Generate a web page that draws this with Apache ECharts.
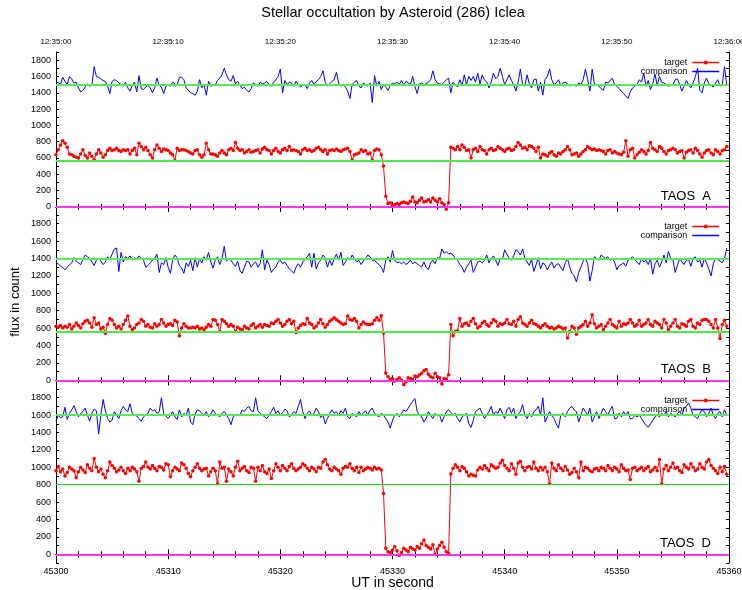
<!DOCTYPE html>
<html><head><meta charset="utf-8">
<script src="https://cdn.jsdelivr.net/npm/echarts@6/dist/echarts.min.js"></script>
<style>html,body{margin:0;padding:0;background:#fff}#c{width:742px;height:590px}</style>
</head><body><div id="c"></div>
<script>
// ---- data ----
const startTime = 45300;      // UT seconds of first sample
const sampleStep = 0.2;       // seconds between samples (5 Hz)
const titleText = 'Stellar occultation by Asteroid (286) Iclea';
const panelNames = ['TAOS  A', 'TAOS  B', 'TAOS  D'];
const seriesNames = ['target', 'comparison'];
const yTickValues = [0, 200, 400, 600, 800, 1000, 1200, 1400, 1600, 1800];
const xTickValues = [45300, 45310, 45320, 45330, 45340, 45350, 45360];
const topTickLabels = ['12:35:00', '12:35:10', '12:35:20', '12:35:30', '12:35:40', '12:35:50', '12:36:00'];
const levelsA = [1500, 560];
const levelsB = [1400, 560];
const levelsD = [1600, 800];
const zeroLevel = 0;

const targetA = [
640,700,760,810,780,730,650,640,620,610,600,650,700,630,600,660,620,580,650,700,660,610,640,690,720,
690,700,720,690,680,700,690,700,650,690,720,640,780,740,700,730,690,640,600,700,760,720,680,710,700,
690,660,640,570,720,690,700,700,690,680,660,650,690,700,640,610,640,780,700,650,650,640,620,660,690,
660,640,700,720,690,790,720,690,700,660,680,700,670,680,690,700,660,710,730,700,690,650,690,720,680,
660,700,720,690,740,690,700,690,680,650,700,720,690,700,680,690,720,730,700,680,700,650,690,700,690,
710,690,680,700,710,720,680,575,640,650,660,700,680,690,650,660,575,690,710,700,640,500,130,40,50,
20,30,40,30,50,60,50,40,70,120,60,50,80,110,60,70,90,60,110,80,60,100,50,30,-30,
50,730,720,700,740,700,760,730,690,700,600,700,720,680,740,700,690,650,700,720,690,700,740,720,700,
680,710,720,690,700,740,790,760,720,730,700,750,740,720,680,730,600,650,640,620,660,680,640,620,660,
650,680,700,740,700,640,650,660,620,650,680,700,740,720,700,710,690,700,690,680,650,690,700,660,680,
660,650,640,670,810,620,700,720,600,640,670,700,680,650,690,790,720,700,680,740,720,680,650,690,700,
720,700,660,680,690,600,670,690,700,660,720,690,650,610,660,690,700,660,640,700,680,650,690,700,740];
const comparisonA = [
1520,1530,1500,1590,1540,1500,1600,1570,1520,1530,1460,1410,1430,1470,1510,1480,1490,1720,1600,1590,1570,1550,1540,1480,1390,
1540,1560,1550,1520,1500,1480,1530,1460,1420,1490,1530,1410,1610,1450,1440,1470,1490,1460,1400,1460,1580,1490,1470,1390,1480,
1500,1480,1530,1510,1490,1590,1590,1560,1460,1430,1400,1390,1370,1420,1560,1460,1500,1370,1540,1480,1490,1500,1550,1580,1620,
1700,1620,1560,1540,1610,1510,1540,1490,1450,1470,1430,1410,1450,1520,1500,1480,1530,1510,1520,1540,1500,1480,1530,1560,1600,
1690,1400,1550,1500,1530,1520,1480,1540,1500,1470,1490,1500,1450,1520,1550,1500,1540,1560,1600,1670,1530,1480,1510,1540,1560,
1650,1520,1480,1500,1470,1420,1330,1500,1530,1550,1480,1460,1520,1500,1480,1520,1280,1610,1480,1540,1440,1500,1470,1430,1490,
1520,1510,1530,1500,1550,1490,1540,1520,1500,1600,1480,1390,1510,1520,1500,1510,1530,1560,1670,1560,1520,1510,1500,1530,1560,
1580,1400,1530,1500,1470,1560,1490,1620,1500,1600,1550,1600,1530,1640,1510,1620,1560,1530,1460,1530,1640,1570,1600,1700,1600,
1500,1560,1620,1550,1500,1420,1530,1690,1500,1480,1620,1510,1460,1560,1570,1420,1530,1370,1560,1600,1690,1560,1500,1520,1560,
1490,1520,1530,1510,1480,1500,1490,1480,1520,1500,1560,1690,1560,1420,1690,1510,1500,1480,1450,1430,1530,1520,1550,1580,1500,
1480,1450,1420,1390,1360,1330,1410,1460,1480,1500,1560,1530,1640,1480,1550,1440,1510,1630,1490,1600,1530,1520,1500,1480,1490,
1500,1560,1570,1500,1420,1480,1550,1500,1460,1520,1600,1700,1430,1400,1520,1580,1510,1490,1470,1520,1560,1480,1500,1720,1500];
const targetB = [
620,610,630,600,620,610,640,590,620,660,630,600,650,680,690,660,610,720,640,660,590,610,540,640,710,
690,640,600,620,590,640,690,740,620,580,600,640,660,700,680,620,640,610,600,650,620,640,700,660,620,
640,650,630,690,670,510,600,650,620,600,600,610,600,620,590,600,580,610,640,620,700,690,640,560,700,
680,650,620,640,620,560,610,590,580,620,600,590,630,650,600,620,640,610,640,630,620,660,650,680,700,
660,620,640,680,700,650,680,550,600,630,650,640,710,660,640,600,620,660,700,650,610,640,680,700,720,
700,680,660,640,650,740,700,690,710,680,600,640,670,650,640,640,650,690,720,690,745,544,84,40,10,
20,-10,10,30,0,-50,-20,30,20,10,50,40,60,80,110,123,70,40,30,80,40,30,-42,20,10,
65,640,513,560,570,710,620,650,660,630,680,710,650,600,620,660,680,640,620,660,700,680,620,650,640,
660,700,650,640,680,620,700,730,660,640,620,660,690,650,640,620,600,630,650,620,600,610,590,600,620,
610,590,600,486,560,620,600,530,600,620,640,680,620,660,754,650,600,620,640,580,620,660,700,640,620,
600,680,620,650,640,660,700,660,620,640,690,620,640,660,700,640,620,680,660,640,600,700,660,580,620,
660,700,620,600,650,640,620,680,700,620,600,660,640,690,700,700,680,640,600,700,600,480,640,690,620];
const comparisonB = [
1360,1340,1310,1300,1270,1300,1330,1350,1410,1370,1350,1330,1390,1440,1420,1400,1360,1320,1380,1400,1370,1330,1360,1420,1390,
1450,1510,1520,1250,1470,1360,1420,1400,1430,1380,1410,1390,1430,1400,1380,1300,1320,1350,1380,1400,1450,1240,1350,1330,1410,
1300,1230,1380,1440,1410,1320,1290,1230,1350,1310,1380,1260,1410,1300,1400,1350,1420,1380,1470,1360,1290,1380,1420,1330,1400,
1540,1370,1400,1380,1340,1310,1370,1260,1230,1300,1370,1360,1300,1340,1360,1300,1340,1500,1270,1380,1330,1240,1280,1300,1360,
1380,1340,1360,1320,1280,1260,1230,1300,1340,1300,1360,1390,1420,1460,1300,1460,1280,1350,1380,1440,1410,1300,1380,1320,1400,
1450,1380,1470,1320,1360,1410,1380,1440,1400,1360,1380,1330,1370,1400,1440,1420,1380,1380,1350,1330,1300,1240,1380,1420,1360,
1490,1380,1350,1360,1340,1360,1330,1350,1380,1340,1360,1340,1320,1300,1360,1300,1270,1350,1380,1340,1410,1400,1510,1460,1480,
1450,1460,1440,1400,1380,1330,1300,1240,1300,1340,1380,1240,1300,1360,1370,1350,1380,1440,1350,1400,1430,1380,1320,1400,1390,
1500,1450,1400,1380,1430,1500,1480,1440,1510,1400,1360,1320,1390,1250,1330,1410,1280,1350,1330,1270,1320,1360,1290,1330,1340,
1300,1260,1350,1400,1300,1230,1200,1130,1240,1300,1370,1400,1340,1140,1260,1420,1400,1380,1440,1420,1400,1420,1380,1400,1360,
1270,1320,1330,1350,1310,1380,1400,1420,1390,1360,1330,1400,1360,1380,1330,1400,1220,1340,1380,1300,1360,1440,1350,1480,1400,
1390,1240,1320,1400,1360,1330,1380,1390,1310,1400,1420,1360,1380,1300,1400,1350,1280,1200,1340,1400,1390,1370,1350,1400,1520];
const targetD = [
960,1010,950,980,900,940,1000,980,960,880,950,1000,970,940,1030,990,960,1100,1000,950,980,920,880,960,1060,
1020,990,950,970,1000,960,930,990,960,1000,980,950,840,990,1010,1060,1000,980,1020,990,960,1010,1000,970,1040,
1030,890,960,1000,980,960,1050,1030,990,930,890,960,1000,1040,990,960,980,990,900,950,990,960,810,1060,990,
1000,840,980,950,900,1000,1070,960,990,1010,960,940,1000,990,840,1000,960,1020,950,930,980,870,960,1040,1000,
960,1020,990,960,1010,1040,990,960,980,1000,1040,1020,990,960,1000,980,950,1000,990,1060,1090,1030,980,960,1000,
980,960,920,990,1010,1000,1040,990,960,1000,940,1000,960,980,1000,990,970,1000,980,990,970,700,70,30,20,
50,90,40,-15,20,70,50,30,80,60,50,90,70,120,165,100,80,60,110,0,60,100,138,80,30,
10,923,990,1030,1000,960,1010,990,950,900,920,910,900,970,1000,980,1020,990,960,1030,1010,990,1000,1050,1080,
1020,990,960,1040,990,920,1050,1070,1000,960,1000,1010,980,1060,990,960,1000,970,1000,950,810,1050,990,960,1030,
990,960,1010,970,920,940,990,950,880,1060,960,1000,990,960,950,980,990,960,1000,990,960,1020,990,960,1000,
980,950,1030,990,960,970,860,990,1000,960,980,1000,960,990,1010,950,970,1000,960,1090,810,980,1020,960,1000,
1050,990,1000,960,940,1030,1000,980,1040,1000,960,980,1040,1000,980,1060,1090,1020,990,960,930,1000,950,1010,920];
const comparisonD = [
1530,1600,1570,1580,1690,1550,1620,1660,1710,1640,1580,1620,1640,1680,1600,1530,1620,1670,1650,1380,1600,1780,1650,1560,1520,
1540,1640,1600,1560,1650,1700,1660,1640,1730,1620,1600,1590,1560,1530,1580,1600,1620,1680,1650,1660,1620,1640,1800,1620,1590,
1560,1600,1640,1580,1550,1660,1580,1620,1600,1680,1520,1490,1610,1660,1650,1620,1600,1640,1580,1610,1660,1620,1600,1580,1620,
1640,1600,1560,1490,1580,1600,1610,1600,1660,1640,1680,1700,1650,1640,1800,1650,1620,1600,1580,1560,1600,1640,1690,1620,1650,
1600,1630,1670,1650,1580,1600,1640,1620,1700,1780,1640,1560,1620,1650,1600,1620,1680,1640,1570,1600,1500,1560,1620,1660,1620,
1640,1600,1650,1620,1680,1580,1560,1620,1600,1580,1640,1600,1620,1650,1600,1660,1680,1620,1600,1580,1620,1600,1560,1520,1450,
1540,1600,1620,1580,1620,1660,1640,1680,1720,1760,1790,1640,1600,1580,1520,1560,1640,1600,1560,1620,1590,1600,1520,1580,1640,
1660,1630,1600,1620,1560,1520,1580,1600,1620,1500,1460,1540,1640,1660,1680,1620,1560,1600,1640,1700,1600,1640,1620,1680,1620,
1560,1660,1690,1620,1680,1560,1610,1640,1720,1600,1560,1620,1580,1640,1660,1700,1600,1800,1520,1580,1640,1600,1560,1500,1450,
1600,1620,1580,1640,1680,1700,1660,1640,1520,1600,1680,1640,1600,1680,1520,1580,1640,1560,1620,1680,1640,1600,1660,1700,1560,
1560,1620,1580,1640,1600,1640,1560,1560,1600,1580,1600,1560,1520,1480,1460,1500,1540,1580,1600,1580,1620,1600,1640,1580,1620,
1600,1580,1620,1640,1600,1680,1700,1740,1680,1600,1580,1560,1620,1660,1640,1580,1620,1680,1600,1560,1620,1640,1580,1660,1600];

// ---- chart ----
const SANS = '"Liberation Sans", Arial, sans-serif';
const toPairs = arr => arr.map((v, i) => [startTime + i * sampleStep, v]);

const panels = [
  { target: targetA, comp: comparisonA, levels: levelsA, lowColor: '#44ee44', lowWidth: 2 },
  { target: targetB, comp: comparisonB, levels: levelsB, lowColor: '#44ee44', lowWidth: 2 },
  { target: targetD, comp: comparisonD, levels: levelsD, lowColor: '#11dd11', lowWidth: 1.2 }
];
const gridPos = [ {top: 52, height: 163}, {top: 215, height: 174}, {top: 389, height: 174} ];
const legendTops = [58, 222, 396];
const panelLabelTops = [190, 363, 537];

const grid = gridPos.map(g => ({ left: 56, width: 673, top: g.top, height: g.height,
  containLabel: false, outerBoundsMode: 'none' }));
const xAxis = [], yAxis = [], series = [], legend = [], title = [];

title.push({ text: titleText, left: 393, textAlign: 'center', top: 5, padding: 0,
  textStyle: { fontFamily: SANS, fontSize: 14.5, fontWeight: 'normal', color: '#000' } });

const lineStyle = { color: '#000', width: 1 };
panels.forEach((p, g) => {
  const isLast = g === 2, isFirst = g === 0;
  // bottom x axis
  xAxis.push({ type: 'value', gridIndex: g, position: 'bottom', min: 45300, max: 45360, interval: 10,
    axisLine: { show: true, lineStyle }, splitLine: { show: false },
    axisTick: { show: true, inside: true, length: 5, lineStyle },
    minorTick: { show: true, splitNumber: 5, length: 3, lineStyle },
    axisLabel: { show: isLast, margin: 4, fontFamily: SANS, fontSize: 9, color: '#000',
      customValues: xTickValues, formatter: v => String(v) },
    name: isLast ? 'UT in second' : '', nameLocation: 'middle', nameGap: 13, nameMoveOverlap: false,
    nameTextStyle: { fontFamily: SANS, fontSize: 14, color: '#000' } });
  // top x axis
  xAxis.push({ type: 'value', gridIndex: g, position: 'top', min: 45300, max: 45360, interval: 10,
    axisLine: { show: true, lineStyle }, splitLine: { show: false },
    axisTick: { show: true, inside: true, length: 5, lineStyle },
    minorTick: { show: true, splitNumber: 5, length: 3, lineStyle },
    axisLabel: { show: isFirst, margin: 6, fontFamily: SANS, fontSize: 8, color: '#000',
      customValues: xTickValues, formatter: v => topTickLabels[xTickValues.indexOf(v)] || '' } });
  // left y axis
  yAxis.push({ type: 'value', gridIndex: g, position: 'left', min: -100, max: 1900, interval: 100,
    axisLine: { show: true, lineStyle }, splitLine: { show: false },
    axisTick: { show: true, inside: true, length: 3, lineStyle },
    axisLabel: { show: true, margin: 5, fontFamily: SANS, fontSize: 9, color: '#000',
      customValues: yTickValues, formatter: v => String(v) },
    name: g === 1 ? 'flux in count' : '', nameLocation: 'middle', nameGap: 34, nameRotate: 90,
    nameMoveOverlap: false,
    nameTextStyle: { fontFamily: SANS, fontSize: 13, color: '#000' } });
  // right y axis
  yAxis.push({ type: 'value', gridIndex: g, position: 'right', min: -100, max: 1900, interval: 100,
    axisLine: { show: true, lineStyle }, splitLine: { show: false },
    axisTick: { show: true, inside: true, length: 3, lineStyle },
    axisLabel: { show: false } });

  series.push({ type: 'line', name: 'comparison', xAxisIndex: 2 * g, yAxisIndex: 2 * g,
    data: toPairs(p.comp), symbol: 'none', lineStyle: { color: '#0000ff', width: 1 },
    itemStyle: { color: '#0000ff' }, animation: false, z: 3,
    markLine: { silent: true, symbol: ['none', 'none'], animation: false, label: { show: false },
      data: [
        { yAxis: p.levels[0], lineStyle: { color: '#55ee55', width: 2, type: 'solid' } },
        { yAxis: p.levels[1], lineStyle: { color: p.lowColor, width: p.lowWidth, type: 'solid' } },
        { yAxis: zeroLevel, lineStyle: { color: '#ff33ff', width: 2, type: 'solid' } }
      ] } });
  series.push({ type: 'line', name: 'target', xAxisIndex: 2 * g, yAxisIndex: 2 * g,
    data: toPairs(p.target), symbol: 'circle', symbolSize: 3.5, showSymbol: true,
    lineStyle: { color: '#ff0000', width: 1 }, itemStyle: { color: '#ff0000' },
    animation: false, z: 4 });

  legend.push({
    data: [ { name: seriesNames[0], lineStyle: { color: '#ff0000', width: 1.5 } },
            { name: seriesNames[1],
              itemStyle: { color: 'rgba(0,0,0,0)', borderColor: 'rgba(0,0,0,0)', borderWidth: 0 },
              lineStyle: { color: '#0000ff', width: 1.5 } } ],
    orient: 'vertical', right: 22, top: legendTops[g], align: 'right',
    itemWidth: 27, itemHeight: 5, itemGap: 0, padding: 0, selectedMode: false,
    textStyle: { fontFamily: SANS, fontSize: 9, color: '#000', lineHeight: 8, padding: 0 } });

  title.push({ text: panelNames[g], right: 31, top: panelLabelTops[g], padding: 0,
    textStyle: { fontFamily: SANS, fontSize: 13, fontWeight: 'normal', color: '#000' } });
});

const chart = echarts.init(document.getElementById('c'), null, { renderer: 'canvas' });
chart.setOption({ animation: false, backgroundColor: '#fff', title, grid, xAxis, yAxis, series, legend });
</script>
</body></html>
